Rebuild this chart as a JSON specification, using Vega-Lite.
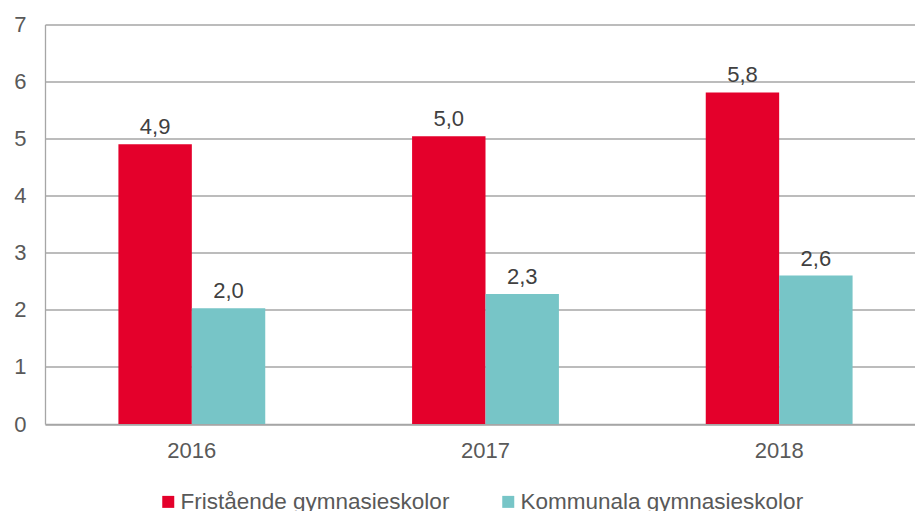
{
  "$schema": "https://vega.github.io/schema/vega-lite/v6.json",
  "autosize": {"type": "none"},
  "width": 881,
  "height": 399.5,
  "padding": {"left": 45, "top": 24.5, "right": 0, "bottom": 87},
  "background": "white",
  "config": {
    "locale": {"number": {"decimal": ",", "thousands": " ", "grouping": [3], "currency": ["", " kr"]}},
    "view": {"stroke": null},
    "font": "Liberation Sans"
  },
  "data": {
    "values": [
      {"year": "2016", "type": "Fristående gymnasieskolor", "value": 4.9},
      {"year": "2016", "type": "Kommunala gymnasieskolor", "value": 2.03},
      {"year": "2017", "type": "Fristående gymnasieskolor", "value": 5.04},
      {"year": "2017", "type": "Kommunala gymnasieskolor", "value": 2.28},
      {"year": "2018", "type": "Fristående gymnasieskolor", "value": 5.81},
      {"year": "2018", "type": "Kommunala gymnasieskolor", "value": 2.6}
    ]
  },
  "encoding": {
    "x": {
      "field": "year", "type": "nominal",
      "scale": {"paddingInner": 0.5, "paddingOuter": 0.25},
      "axis": {"title": null, "labelAngle": 0, "labelFontSize": 22, "labelColor": "#595959", "labelPadding": 16, "ticks": false, "domainColor": "#a6a6a6", "domainWidth": 1.3}
    },
    "xOffset": {"field": "type", "type": "nominal", "scale": {"paddingInner": 0, "paddingOuter": 0}},
    "y": {
      "field": "value", "type": "quantitative",
      "scale": {"domain": [0, 7], "nice": false},
      "axis": {"title": null, "values": [0, 1, 2, 3, 4, 5, 6, 7], "labelOverlap": false, "labelFontSize": 22, "labelColor": "#595959", "labelPadding": 19, "ticks": false, "domain": true, "domainColor": "#a6a6a6", "domainWidth": 1.3, "gridColor": "#a6a6a6", "gridWidth": 1.3}
    }
  },
  "layer": [
    {
      "mark": {"type": "bar"},
      "encoding": {
        "color": {
          "field": "type", "type": "nominal",
          "scale": {"domain": ["Fristående gymnasieskolor", "Kommunala gymnasieskolor"], "range": ["#e4002b", "#77c5c7"]},
          "legend": {
            "title": null, "orient": "none", "legendX": 112, "legendY": 466,
            "direction": "horizontal", "columns": 2, "columnPadding": 47,
            "symbolType": "square", "symbolSize": 144, "symbolStrokeWidth": 0, "symbolOffset": 0,
            "labelFontSize": 22.5, "labelColor": "#595959", "labelOffset": 1, "labelLimit": 400
          }
        }
      }
    },
    {
      "mark": {"type": "text", "baseline": "alphabetic", "dy": -10, "fontSize": 22, "color": "#404040"},
      "encoding": {
        "text": {"field": "value", "type": "quantitative", "format": ".1f"}
      }
    }
  ]
}
